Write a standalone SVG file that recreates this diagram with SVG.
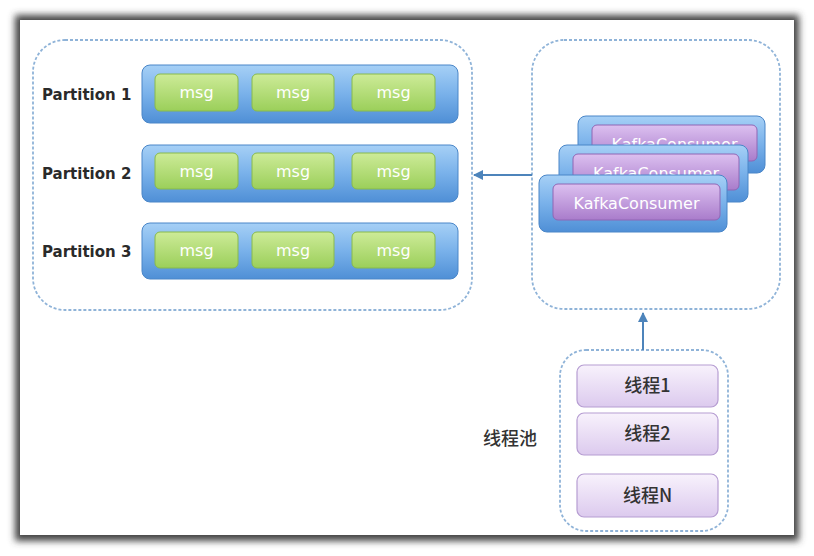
<svg xmlns="http://www.w3.org/2000/svg" width="814" height="556" viewBox="0 0 814 556">
  <defs>
    <filter id="frameShadow" x="-10%" y="-10%" width="120%" height="120%">
      <feGaussianBlur stdDeviation="3.5"/>
    </filter>
    <linearGradient id="gBlue" x1="0" y1="0" x2="0" y2="1">
      <stop offset="0" stop-color="#a6d0f6"/>
      <stop offset="0.5" stop-color="#79b1ea"/>
      <stop offset="1" stop-color="#4f8fd6"/>
    </linearGradient>
    <linearGradient id="gGreen" x1="0" y1="0" x2="0" y2="1">
      <stop offset="0" stop-color="#cdeb98"/>
      <stop offset="1" stop-color="#9bcf5a"/>
    </linearGradient>
    <linearGradient id="gPurple" x1="0" y1="0" x2="0" y2="1">
      <stop offset="0" stop-color="#dcc0f0"/>
      <stop offset="1" stop-color="#a97ccb"/>
    </linearGradient>
    <linearGradient id="gThread" x1="0" y1="0" x2="0" y2="1">
      <stop offset="0" stop-color="#f8f2fc"/>
      <stop offset="1" stop-color="#dccaee"/>
    </linearGradient>
    <marker id="arrow" viewBox="0 0 10 10" refX="9" refY="5" markerWidth="5" markerHeight="5" orient="auto">
      <path d="M0,0 L10,5 L0,10 z" fill="#4d84bb"/>
    </marker>
    <style>
      .group { fill: none; stroke: #8fb3d8; stroke-width: 1.8; stroke-dasharray: 3 2; }
      .bar { fill: url(#gBlue); stroke: #4a86c8; stroke-width: 1; }
      .msg { fill: url(#gGreen); stroke: #88ba4c; stroke-width: 1; }
      .consumer { fill: url(#gPurple); stroke: #8f66b4; stroke-width: 1; }
      .thread { fill: url(#gThread); stroke: #b69dd2; stroke-width: 1.2; }
      .label { font-family: "DejaVu Sans", "Liberation Sans", sans-serif; font-weight: bold; font-size: 15px; fill: #2a2a2a; }
      .msgText { font-family: "DejaVu Sans", "Liberation Sans", sans-serif; font-size: 16px; fill: #ffffff; text-anchor: middle; }
      .kcText { font-family: "DejaVu Sans", "Liberation Sans", sans-serif; font-size: 16px; fill: #ffffff; text-anchor: middle; }
      .cjk { font-family: "Noto Sans CJK SC", "DejaVu Sans", sans-serif; font-size: 18px; font-weight: 500; fill: #333; text-anchor: middle; }
      .edge { fill: none; stroke: #4d84bb; stroke-width: 2; }
    </style>
  </defs>

  <!-- page frame with soft shadow -->
  <rect x="0" y="0" width="814" height="556" fill="#ffffff"/>
  <rect x="15" y="15" width="784" height="526" fill="#444" filter="url(#frameShadow)"/>
  <rect x="20" y="20" width="774" height="515" fill="#ffffff"/>

  <!-- partitions -->
  <g id="partitions">
    <rect class="group" x="33" y="40" width="439" height="270" rx="32"/>
  </g>

  <g id="partition-1">
    <text class="label" x="42" y="100">Partition 1</text>
    <rect class="bar" x="142" y="65" width="316" height="58" rx="8"/>
    <rect class="msg" x="155" y="74" width="83" height="37" rx="5"/>
    <text class="msgText" x="196.5" y="98">msg</text>
    <rect class="msg" x="252" y="74" width="82" height="37" rx="5"/>
    <text class="msgText" x="293" y="98">msg</text>
    <rect class="msg" x="352" y="74" width="83" height="37" rx="5"/>
    <text class="msgText" x="393.5" y="98">msg</text>
  </g>

  <g id="partition-2">
    <text class="label" x="42" y="179">Partition 2</text>
    <rect class="bar" x="142" y="145" width="316" height="57" rx="8"/>
    <rect class="msg" x="155" y="153" width="83" height="36" rx="5"/>
    <text class="msgText" x="196.5" y="177">msg</text>
    <rect class="msg" x="252" y="153" width="82" height="36" rx="5"/>
    <text class="msgText" x="293" y="177">msg</text>
    <rect class="msg" x="352" y="153" width="83" height="36" rx="5"/>
    <text class="msgText" x="393.5" y="177">msg</text>
  </g>

  <g id="partition-3">
    <text class="label" x="42" y="257">Partition 3</text>
    <rect class="bar" x="142" y="223" width="316" height="56" rx="8"/>
    <rect class="msg" x="155" y="232" width="83" height="36" rx="5"/>
    <text class="msgText" x="196.5" y="256">msg</text>
    <rect class="msg" x="252" y="232" width="82" height="36" rx="5"/>
    <text class="msgText" x="293" y="256">msg</text>
    <rect class="msg" x="352" y="232" width="83" height="36" rx="5"/>
    <text class="msgText" x="393.5" y="256">msg</text>
  </g>

  <!-- consumers -->
  <g id="consumers">
    <rect class="group" x="532" y="40" width="248" height="269" rx="32"/>
  </g>

  <g id="consumer-3">
    <rect class="bar" x="578" y="116" width="187" height="57" rx="8"/>
    <rect class="consumer" x="592" y="125" width="165" height="36" rx="5"/>
    <text class="kcText" x="674.5" y="150">KafkaConsumer</text>
  </g>
  <g id="consumer-2">
    <rect class="bar" x="559" y="145" width="189" height="57" rx="8"/>
    <rect class="consumer" x="573" y="154" width="166" height="36" rx="5"/>
    <text class="kcText" x="656" y="179">KafkaConsumer</text>
  </g>
  <g id="consumer-1">
    <rect class="bar" x="539" y="175" width="188" height="57" rx="8"/>
    <rect class="consumer" x="553" y="184" width="167" height="36" rx="5"/>
    <text class="kcText" x="636.5" y="209">KafkaConsumer</text>
  </g>

  <!-- thread pool -->
  <g id="thread-pool">
    <text class="cjk" x="510" y="445">线程池</text>
    <rect class="group" x="560" y="350" width="168" height="181" rx="26"/>
  </g>
  <g id="thread-1">
    <rect class="thread" x="577" y="365" width="141" height="42" rx="7"/>
    <text class="cjk" x="647.5" y="392">线程1</text>
  </g>
  <g id="thread-2">
    <rect class="thread" x="577" y="413" width="141" height="42" rx="7"/>
    <text class="cjk" x="647.5" y="440">线程2</text>
  </g>
  <g id="thread-n">
    <rect class="thread" x="577" y="474" width="141" height="43" rx="7"/>
    <text class="cjk" x="647.5" y="502">线程N</text>
  </g>

  <!-- connectors -->
  <g id="connectors">
    <line class="edge" x1="532" y1="175" x2="474" y2="175" marker-end="url(#arrow)"/>
    <line class="edge" x1="643" y1="350" x2="643" y2="313" marker-end="url(#arrow)"/>
  </g>
</svg>
